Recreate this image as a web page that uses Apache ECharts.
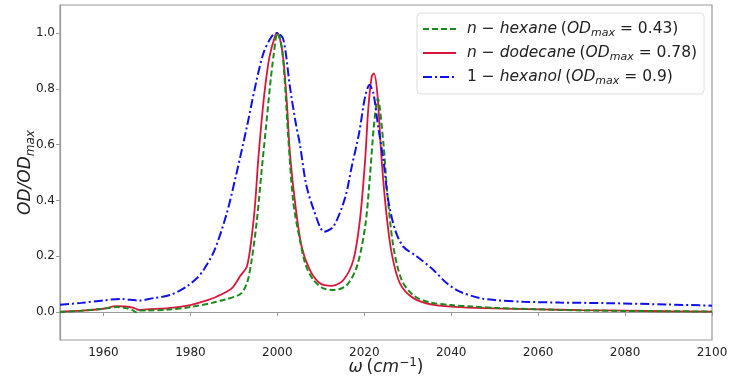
<!DOCTYPE html>
<html>
<head>
<meta charset="utf-8">
<script src="https://cdn.jsdelivr.net/npm/echarts@6/dist/echarts.min.js"></script>
<style>
html,body{margin:0;padding:0;background:#fff;}
#chart{width:731px;height:376px;}
</style>
</head>
<body>
<div id="chart"></div>
<script>
// ---- data ----
const hexaneW = [1950,1955,1960,1963,1965,1966.8,1967.4,1968.2,1970,1975,1980,1985,1988,1991.5,1993,1994.1,1995.3,1996.4,1997.4,1998.3,1999.2,2000,2001,2001.8,2002.5,2003.7,2005.2,2006.5,2008.3,2010.6,2013.3,2016,2018.3,2020.2,2021.3,2022.2,2023.1,2024.4,2025.3,2026.7,2028.6,2031.3,2035,2040,2045,2050,2060,2070,2080,2090,2100];
const hexaneV = [0.0,0.005,0.012,0.018,0.015,0.006,0.0,0.006,0.006,0.009,0.018,0.033,0.045,0.065,0.103,0.187,0.33,0.509,0.664,0.807,0.927,1.0,0.951,0.807,0.628,0.39,0.258,0.17,0.115,0.085,0.079,0.097,0.163,0.306,0.485,0.664,0.765,0.605,0.426,0.234,0.115,0.06,0.035,0.025,0.02,0.015,0.01,0.006,0.004,0.003,0.002];

const dodecaneW = [1950,1955,1960,1963,1965,1966.8,1967.4,1968.2,1970,1975,1980,1983,1986,1989.5,1991.5,1993,1994.1,1994.9,1995.6,1996.4,1997.2,1998.2,1999.5,2000,2000.6,2001.4,2002.2,2002.9,2004.1,2005.6,2007.5,2009.8,2012.5,2015.2,2017.5,2019,2020.2,2020.9,2021.7,2022.2,2023,2024,2025,2026.3,2028.2,2031.3,2035.9,2042,2050,2060,2070,2080,2090,2100];
const dodecaneV = [0.002,0.005,0.012,0.021,0.02,0.016,0.012,0.008,0.01,0.014,0.025,0.038,0.055,0.085,0.13,0.163,0.27,0.39,0.545,0.688,0.807,0.915,0.99,1.0,0.98,0.903,0.748,0.569,0.39,0.234,0.15,0.103,0.094,0.115,0.187,0.33,0.545,0.724,0.843,0.855,0.784,0.545,0.366,0.211,0.103,0.05,0.026,0.018,0.013,0.01,0.007,0.005,0.003,0.002];

const hexanolW = [1950,1955,1960,1964,1967,1968,1971.5,1975.3,1979,1981.4,1983,1985.5,1988.3,1990.5,1993,1994.9,1996.8,1998.7,2000,2001.4,2002.9,2004.2,2005.2,2006.6,2008.3,2010.8,2012.9,2015.6,2017.1,2018.8,2020.2,2021.2,2022.1,2023.2,2024.4,2025.5,2027.1,2029,2032.1,2035.9,2039,2042,2046.6,2050,2056.6,2065,2075.8,2090,2100];
const hexanolV = [0.026,0.033,0.042,0.047,0.043,0.041,0.05,0.061,0.09,0.12,0.15,0.22,0.35,0.49,0.664,0.807,0.927,0.987,1.0,0.975,0.807,0.68,0.6,0.46,0.37,0.288,0.306,0.41,0.52,0.64,0.772,0.813,0.784,0.664,0.545,0.402,0.294,0.234,0.199,0.151,0.103,0.073,0.05,0.043,0.037,0.034,0.032,0.027,0.023];

const xTicks = [1960,1980,2000,2020,2040,2060,2080,2100];
const yTicks = [0.0,0.2,0.4,0.6,0.8,1.0];
const seriesNames = ['hexane','dodecane','hexanol'];
const legendLabels = {
  hexane: '{it|n − hexane} {n|(}{it|OD}{sub|max}{n| = 0.43)}',
  dodecane: '{it|n − dodecane} {n|(}{it|OD}{sub|max}{n| = 0.78)}',
  hexanol: '{n|1 − }{it|hexanol} {n|(}{it|OD}{sub|max}{n| = 0.9)}'
};

const zip = (w, v) => w.map((x, i) => [x, v[i]]);
const FONT = 'DejaVu Sans';

const chart = echarts.init(document.getElementById('chart'), null, {renderer: 'canvas'});
chart.setOption({
  animation: false,
  backgroundColor: '#fff',
  grid: {left: 60, right: 19, top: 5, bottom: 36, containLabel: false, outerBoundsMode: 'none',
         show: true, borderColor: '#9a9a9a', borderWidth: 1.2, backgroundColor: 'transparent'},
  xAxis: {
    type: 'value', min: 1950, max: 2100,
    name: '{it|ω} {n|(}{it|cm}{sup|−1}{n|)}',
    nameLocation: 'middle', nameGap: 17, nameMoveOverlap: false,
    nameTextStyle: {
      fontFamily: FONT, color: '#222',
      rich: {
        it: {fontFamily: FONT, fontStyle: 'italic', fontSize: 17, color: '#222', lineHeight: 22},
        n: {fontFamily: FONT, fontSize: 17, color: '#222', lineHeight: 22},
        sup: {fontFamily: FONT, fontStyle: 'normal', fontSize: 12, color: '#222', lineHeight: 12, verticalAlign: 'top'}
      }
    },
    axisLine: {show: true, lineStyle: {color: '#9a9a9a', width: 1.2}},
    axisTick: {show: true, customValues: xTicks, length: 4, inside: false, lineStyle: {color: '#9a9a9a'}},
    axisLabel: {customValues: xTicks, fontFamily: FONT, fontSize: 12, color: '#222', margin: 7, formatter: v => String(v)},
    splitLine: {show: false}
  },
  yAxis: {
    type: 'value', min: -0.1, max: 1.1,
    name: '{it|OD/OD}{sub|max}',
    nameLocation: 'middle', nameGap: 23, nameRotate: 90, nameMoveOverlap: false,
    nameTextStyle: {
      fontFamily: FONT, color: '#222',
      rich: {
        it: {fontFamily: FONT, fontStyle: 'italic', fontSize: 17, color: '#222', lineHeight: 22},
        sub: {fontFamily: FONT, fontStyle: 'italic', fontSize: 12, color: '#222', lineHeight: 12, verticalAlign: 'bottom'}
      }
    },
    axisLine: {show: true, lineStyle: {color: '#9a9a9a', width: 1.2}},
    axisTick: {show: true, customValues: yTicks, length: 4, inside: false, lineStyle: {color: '#9a9a9a'}},
    axisLabel: {customValues: yTicks, fontFamily: FONT, fontSize: 12, color: '#222', margin: 5, formatter: v => v.toFixed(1)},
    splitLine: {show: false}
  },
  legend: {
    orient: 'vertical', left: 417, top: 13,
    padding: [8, 7, 7, 5],
    itemWidth: 33, itemHeight: 14, itemGap: 6,
    backgroundColor: 'rgba(255,255,255,0.85)',
    borderColor: '#dddddd', borderWidth: 1, borderRadius: 4,
    itemStyle: {opacity: 0},
    data: seriesNames,
    formatter: name => legendLabels[name],
    textStyle: {
      fontFamily: FONT, color: '#222', padding: [0, 0, 0, 6],
      rich: {
        it: {fontFamily: FONT, fontStyle: 'italic', fontSize: 15.5, color: '#222', lineHeight: 20},
        n: {fontFamily: FONT, fontSize: 15.5, color: '#222', lineHeight: 20},
        sub: {fontFamily: FONT, fontStyle: 'italic', fontSize: 11, color: '#222', lineHeight: 11, verticalAlign: 'bottom'}
      }
    }
  },
  series: [
    {name: 'hexane', type: 'line', data: zip(hexaneW, hexaneV), showSymbol: false, symbol: 'none', smooth: 0.3,
     lineStyle: {color: '#1a8a1a', width: 2, type: [6, 3]}, itemStyle: {color: '#1a8a1a'}, z: 3},
    {name: 'dodecane', type: 'line', data: zip(dodecaneW, dodecaneV), showSymbol: false, symbol: 'none', smooth: 0.3,
     lineStyle: {color: '#dc143c', width: 1.8, type: 'solid'}, itemStyle: {color: '#dc143c'}, z: 2},
    {name: 'hexanol', type: 'line', data: zip(hexanolW, hexanolV), showSymbol: false, symbol: 'none', smooth: 0.3,
     lineStyle: {color: '#1010ee', width: 2, type: [9, 3, 2, 3]}, itemStyle: {color: '#1010ee'}, z: 4}
  ]
});
</script>
</body>
</html>
